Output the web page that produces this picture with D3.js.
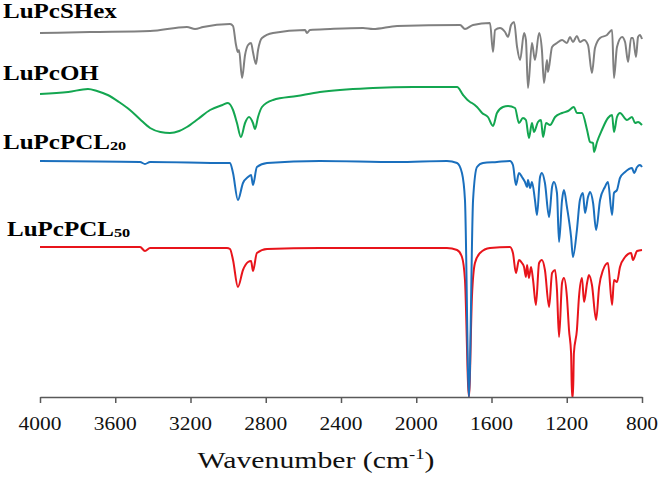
<!DOCTYPE html>
<html>
<head>
<meta charset="utf-8">
<script src="https://cdn.jsdelivr.net/npm/d3@7"></script>
<style>
  body { margin: 0; background: #fff; }
  svg { display: block; }
</style>
</head>
<body>
<svg id="chart" width="661" height="478"></svg>
<script>
// FTIR spectra, [wavenumber cm-1, transmittance (a.u., stacked)]
const luPcSHex = [
  [4000,182],[3734,182.5],[3415,183],[3219,185],[3176,184],[3133,185],[2990,186.5],[2974,185.5],
  [2958,176],[2948,172.5],[2942,173.5],[2926,159.5],[2910,171],[2894,176],[2878,177],[2868,172.5],
  [2852,166.5],[2841,173.5],[2820,179.5],[2761,182],[2591,183.5],[2581,182],[2565,183.5],[2458,184],
  [2283,184.5],[2230,184],[2102,185.5],[1767,186],[1741,184],[1698,186],[1608,187],[1592,172.5],
  [1581,183.5],[1555,184.5],[1528,182.5],[1512,180],[1496,186],[1480,187.5],[1464,175],[1448,168.5],
  [1427,182],[1417,178.5],[1406,154.5],[1385,177],[1369,168.5],[1347,182],[1332,173.5],[1321,157],
  [1305,168.5],[1300,162.5],[1278,175],[1252,177],[1225,178.5],[1199,177],[1183,180],[1167,177.5],
  [1146,180.5],[1130,177.5],[1108,178.5],[1087,176],[1066,162],[1050,174.5],[1023,179.5],[986,181],
  [959,183.5],[949,159.5],[933,175],[906,180],[890,177.5],[874,167.5],[858,179.5],[848,179.5],
  [832,170],[821,180],[811,181],[800,179]
];
const luPcOH = [
  [4000,151.5],[3850,152.5],[3745,154],[3697,153],[3640,151],[3580,147.5],[3522,143.5],[3470,139],
  [3415,134.5],[3360,132.5],[3309,132],[3260,133],[3219,135],[3160,139],[3096,143.5],[3030,146],
  [3001,147],[2974,143.5],[2953,137],[2932,130],[2910,137],[2889,140],[2868,137],[2857,134],
  [2841,140],[2820,145],[2761,148.5],[2634,150.5],[2512,152.5],[2230,154.5],[2017,155],[1783,155],
  [1751,151],[1714,147.5],[1704,147],[1677,145],[1650,142],[1619,140],[1592,135.5],[1571,142],
  [1539,145],[1512,145.5],[1475,144.5],[1454,137],[1433,139.5],[1417,138.5],[1401,129.5],[1385,137],
  [1374,132.5],[1353,137.5],[1337,138.5],[1326,130],[1310,137],[1289,136],[1262,140],[1225,142],
  [1193,143],[1162,145],[1146,142],[1119,142],[1092,133.5],[1076,127.5],[1060,127],[1055,122.5],
  [1039,127.5],[1013,133.5],[981,139.5],[959,141],[949,132.5],[933,140],[917,142],[880,138.5],
  [853,140],[837,137],[821,137.5],[800,136]
];
const luPcPCL20 = [
  [4000,118],[3468,117.5],[3442,116.5],[3415,117.5],[3006,117],[2990,117],[2974,112],[2948,98.5],
  [2921,107],[2894,110],[2878,111],[2868,106],[2847,115],[2793,117],[2512,118],[2102,117.5],
  [1837,118],[1783,117],[1757,112],[1741,98.5],[1720,0],[1698,98.5],[1677,115],[1645,117],
  [1571,117.5],[1502,118],[1486,116],[1470,106],[1454,112],[1438,110],[1422,107.5],[1411,105],
  [1406,108.5],[1395,104.5],[1385,107.5],[1369,98.5],[1358,91],[1342,110],[1332,112],[1316,107],
  [1294,90],[1278,105],[1268,107.5],[1252,102],[1241,77.5],[1225,98.5],[1215,103.5],[1199,95],
  [1177,80],[1167,70],[1146,83.5],[1130,98.5],[1114,102],[1103,92],[1087,100],[1076,102.5],
  [1060,97],[1044,83.5],[1023,98.5],[997,105],[981,107.5],[959,91],[949,102],[933,103.5],
  [917,109.5],[890,112.5],[853,114.5],[842,112],[826,115],[811,116],[800,115]
];
const luPcPCL50 = [
  [4000,75],[3468,75],[3442,73],[3415,74.5],[3006,74.5],[2990,74],[2974,68.5],[2948,55],
  [2921,63.5],[2894,67.5],[2878,68],[2868,63],[2847,72],[2793,74],[2512,74.5],[2102,74.5],
  [1837,74.5],[1783,73.5],[1757,70],[1741,58.5],[1720,0],[1704,50],[1688,67],[1661,72],
  [1608,74.5],[1502,75],[1486,72],[1470,62],[1454,68.5],[1438,67],[1427,65],[1417,60],
  [1411,66],[1401,59.5],[1390,65],[1379,58.5],[1364,46],[1347,67],[1332,68.5],[1316,63.5],
  [1294,45],[1278,62],[1262,63.5],[1252,53.5],[1241,30],[1225,57],[1215,59.5],[1199,50],
  [1188,33.5],[1177,22],[1172,0],[1167,0],[1162,22],[1146,33.5],[1135,50],[1119,59.5],
  [1108,47.5],[1092,57],[1082,61],[1066,56],[1044,38.5],[1028,55],[1007,63.5],[981,67],
  [959,46],[949,58.5],[933,57.5],[917,65],[890,70],[858,72],[848,68.5],[826,73],[800,73.5]
];
const xTicks = [4000, 3600, 3200, 2800, 2400, 2000, 1600, 1200, 800];

const series = [
  { name: "LuPcPCL", sub: "50", data: luPcPCL50, color: "#e8141b", lx: 7, ly: 236 },
  { name: "LuPcPCL", sub: "20", data: luPcPCL20, color: "#1a6fbd", lx: 3, ly: 149 },
  { name: "LuPcOH", sub: "", data: luPcOH, color: "#13a650", lx: 3, ly: 80 },
  { name: "LuPcSHex", sub: "", data: luPcSHex, color: "#808080", lx: 3, ly: 18 }
];

const svg = d3.select("#chart");
const x = d3.scaleLinear().domain([4000, 800]).range([40, 642]);
const y = d3.scaleLinear().domain([0, 190]).range([397, 17]);

const line = d3.line()
  .x(d => x(d[0]))
  .y(d => y(d[1]))
  .curve(d3.curveMonotoneX);

series.forEach(s => {
  svg.append("path")
    .datum(s.data)
    .attr("fill", "none")
    .attr("stroke", s.color)
    .attr("stroke-width", 2)
    .attr("stroke-linejoin", "round")
    .attr("d", line);

  // series label, bold serif, a bit stretched like the original
  let t = svg.append("text")
    .attr("transform", `translate(${s.lx},${s.ly}) scale(1.25,1)`)
    .attr("font-family", "'Liberation Serif', 'Times New Roman', serif")
    .attr("font-weight", "bold")
    .attr("font-size", "20px")
    .attr("fill", "#000")
    .text(s.name);
  if (s.sub) {
    t.append("tspan")
      .attr("font-size", "13px")
      .attr("dy", 1)
      .text(s.sub);
  }
});

// x axis
const axis = svg.append("g")
  .attr("transform", "translate(0,397)")
  .call(d3.axisBottom(x).tickValues(xTicks).tickSize(6).tickSizeOuter(0).tickFormat(d3.format("d")));
axis.select(".domain").attr("stroke", "#595959").attr("stroke-width", 1.5);
axis.selectAll(".tick line").attr("stroke", "#595959").attr("stroke-width", 1.5);
axis.selectAll(".tick text").remove();

xTicks.forEach(v => {
  svg.append("text")
    .attr("transform", `translate(${x(v)},430) scale(1.13,1)`)
    .attr("text-anchor", "middle")
    .attr("font-family", "'Liberation Serif', 'Times New Roman', serif")
    .attr("font-size", "19px")
    .attr("fill", "#111")
    .text(v);
});

const title = svg.append("text")
  .attr("transform", "translate(316,468) scale(1.24,1)")
  .attr("text-anchor", "middle")
  .attr("font-family", "'Liberation Serif', 'Times New Roman', serif")
  .attr("font-size", "24px")
  .attr("fill", "#111")
  .text("Wavenumber (cm");
title.append("tspan").attr("font-size", "15px").attr("dy", -9).text("-1");
title.append("tspan").attr("dy", 9).text(")");
</script>
</body>
</html>
